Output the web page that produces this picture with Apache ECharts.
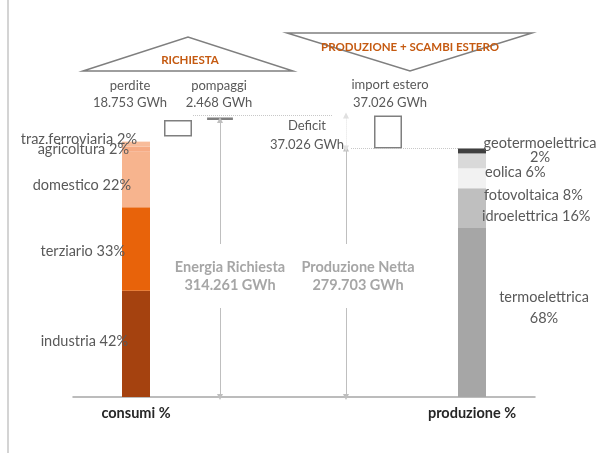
<!DOCTYPE html>
<html>
<head>
<meta charset="utf-8">
<script src="https://cdn.jsdelivr.net/npm/echarts@6/dist/echarts.min.js"></script>
<style>
  html, body { margin: 0; padding: 0; background: #fff; }
  #chart { width: 605px; height: 453px; }
</style>
</head>
<body>
<div id="chart"></div>
<script>
// Colonne lungo l'asse orizzontale
const slots = ['s0', 'consumi %', 'perdite', 'pompaggi', 's4', 's5', 'saldo', 'import', 's8', 'produzione %', 's10'];

// Bilancio elettrico (GWh)
const richiestaGWh = 314261;
const perditeGWh = 18753;
const pompaggiGWh = 2468;
const importGWh = 37026;
const produzioneGWh = 279703;

// Consumi per settore (%), dal basso verso l'alto
const settori = ['industria', 'terziario', 'domestico', 'agricoltura', 'traz.ferroviaria'];
const consumiPerc = [42, 33, 22, 2, 2];

// Produzione per fonte (%), dal basso verso l'alto
const fonti = ['termoelettrica', 'idroelettrica', 'fotovoltaica', 'eolica', 'geotermoelettrica'];
const produzionePerc = [68, 16, 8, 6, 2];

const FONT = 'Lato';
const GWH_MAX = 350000;

const fmtGWh = v => String(v).replace(/\B(?=(\d{3})+(?!\d))/g, '.') + ' GWh';
const at = (slot, value) => slots.map(s => (s === slot ? value : '-'));
const consumiGWh = richiestaGWh - perditeGWh - pompaggiGWh;

const settoreColori = ['#a5420f', '#e8630a', '#f7b48e', '#f6ab84', '#f8bc9a'];
const settoreLabel = [
  { distance: -6, offset: [0, -3] },
  { distance: -3, offset: [0, 2] },
  { distance: -9, offset: [0, 6] },
  { distance: -7, offset: [0, 0] },
  { distance: -15, offset: [0, -5] }
];

const fonteColori = ['#a6a6a6', '#bfbfbf', '#f2f2f2', '#d9d9d9', '#3f3f3f'];
const fonteLabel = [
  { distance: 58, offset: [0, -5], align: 'center', lineHeight: 21, twoLines: true },
  { distance: -4, offset: [0, 8], align: 'left' },
  { distance: -2, offset: [0, 17], align: 'left' },
  { distance: -1, offset: [0, 11], align: 'left' },
  { distance: 54, offset: [0, -1], align: 'center', lineHeight: 14, twoLines: true }
];

const barCommon = { type: 'bar', barWidth: 28, barGap: '-100%' };
const labelText = { color: '#595959', fontFamily: FONT, fontSize: 14.5 };

const guide = { color: '#bfbfbf', width: 1 };

const series = [];

// Base invisibile per i riquadri sospesi + frecce e linee guida
series.push(Object.assign({}, barCommon, {
  name: 'base',
  stack: 'bilancio',
  yAxisIndex: 0,
  silent: true,
  itemStyle: { color: 'transparent' },
  data: slots.map(s => {
    if (s === 'perdite') return consumiGWh;
    if (s === 'pompaggi') return richiestaGWh - pompaggiGWh;
    if (s === 'import') return produzioneGWh;
    return '-';
  }),
  markLine: {
    silent: true,
    animation: false,
    label: { show: false },
    symbol: ['triangle', 'triangle'],
    symbolSize: 6,
    lineStyle: { color: guide.color, width: guide.width, type: 'solid' },
    data: [
      [{ coord: ['pompaggi', richiestaGWh - pompaggiGWh] }, { coord: ['pompaggi', 0] }],
      [{ coord: ['saldo', produzioneGWh] }, { coord: ['saldo', 0] }],
      [{ coord: ['saldo', produzioneGWh + importGWh], lineStyle: { type: 'dotted', color: '#e0e0e0' } },
       { coord: ['saldo', produzioneGWh] }],
      [{ coord: ['perdite', produzioneGWh + importGWh], x: 193, symbol: 'none', lineStyle: { type: 'dotted', color: '#c8c8c8' } },
       { coord: ['saldo', produzioneGWh + importGWh], x: 332, symbol: 'none' }],
      [{ coord: ['saldo', produzioneGWh], x: 351, symbol: 'none', lineStyle: { type: 'dotted', color: '#c8c8c8' } },
       { coord: ['produzione %', produzioneGWh], x: 458, symbol: 'none' }]
    ]
  }
}));

// Riquadri: perdite, pompaggi, import estero
const boxStyle = { color: '#ffffff', borderColor: '#7f7f7f', borderWidth: 1.5 };
series.push(Object.assign({}, barCommon, {
  name: 'riquadri',
  stack: 'bilancio',
  yAxisIndex: 0,
  silent: true,
  data: slots.map(s => {
    if (s === 'perdite') return { value: perditeGWh, itemStyle: boxStyle };
    if (s === 'pompaggi') return { value: pompaggiGWh, itemStyle: { color: '#7f7f7f', borderColor: '#7f7f7f', borderWidth: 2.5 } };
    if (s === 'import') return { value: importGWh, itemStyle: boxStyle };
    return '-';
  })
}));

// Consumi per settore
settori.forEach((nome, i) => {
  const lb = settoreLabel[i];
  series.push(Object.assign({}, barCommon, {
    name: nome,
    stack: 'consumi',
    yAxisIndex: 1,
    itemStyle: { color: settoreColori[i] },
    label: Object.assign({
      show: true,
      position: 'left',
      distance: lb.distance,
      offset: lb.offset,
      align: 'right',
      formatter: p => nome + ' ' + p.value + '%'
    }, labelText),
    data: at('consumi %', consumiPerc[i])
  }));
});

// Produzione per fonte
fonti.forEach((nome, i) => {
  const lb = fonteLabel[i];
  series.push(Object.assign({}, barCommon, {
    name: nome,
    stack: 'produzione',
    yAxisIndex: 2,
    itemStyle: { color: fonteColori[i] },
    label: Object.assign({
      show: true,
      position: 'right',
      distance: lb.distance,
      offset: lb.offset,
      align: lb.align,
      lineHeight: lb.lineHeight || 16,
      formatter: p => nome + (lb.twoLines ? '\n' : ' ') + p.value + '%'
    }, labelText),
    data: at('produzione %', produzionePerc[i])
  }));
});

const txt = (x, y, text, extra) => ({
  type: 'text', x: x, y: y, z: 50, silent: true,
  style: Object.assign({
    text: text, align: 'center', verticalAlign: 'middle',
    fill: '#595959', fontFamily: FONT, fontSize: 13
  }, extra || {})
});

const option = {
  animation: false,
  backgroundColor: '#ffffff',
  textStyle: { fontFamily: FONT },
  grid: { left: 73, right: 70, top: 86, bottom: 56 },
  xAxis: {
    type: 'category',
    data: slots,
    axisTick: { show: false },
    axisLine: { lineStyle: { color: '#a6a6a6', width: 1.5 } },
    axisLabel: {
      interval: 0,
      margin: 9,
      color: '#262626',
      fontWeight: 'bold',
      fontSize: 14.5,
      fontFamily: FONT,
      formatter: v => (v === 'consumi %' || v === 'produzione %') ? v : ''
    }
  },
  yAxis: [
    { type: 'value', min: 0, max: GWH_MAX, show: false },
    { type: 'value', min: 0, max: 123, show: false },
    { type: 'value', min: 0, max: 100 * GWH_MAX / produzioneGWh, show: false }
  ],
  series: series,
  graphic: [
    { type: 'line', silent: true, shape: { x1: 8, y1: 0, x2: 8, y2: 453 }, style: { stroke: '#d4d4d4', lineWidth: 2 } },
    { type: 'polygon', silent: true, shape: { points: [[83, 71], [188, 37], [293, 71]] },
      style: { fill: 'none', stroke: '#7f7f7f', lineWidth: 1.5 } },
    { type: 'polygon', silent: true, shape: { points: [[287, 33], [532, 33], [410, 71]] },
      style: { fill: 'none', stroke: '#7f7f7f', lineWidth: 1.5 } },
    txt(190, 60, 'RICHIESTA', { fill: '#c55a11', fontWeight: 'bold', fontSize: 11.5 }),
    txt(410, 47, 'PRODUZIONE + SCAMBI ESTERO', { fill: '#c55a11', fontWeight: 'bold', fontSize: 11.5 }),
    txt(130, 94, 'perdite\n' + fmtGWh(perditeGWh), { lineHeight: 17 }),
    txt(219, 94, 'pompaggi\n' + fmtGWh(pompaggiGWh), { lineHeight: 17 }),
    txt(390, 94, 'import estero\n' + fmtGWh(importGWh), { lineHeight: 18 }),
    txt(307, 135, 'Deficit\n' + fmtGWh(importGWh), { lineHeight: 19 }),
    txt(230, 276, 'Energia Richiesta\n' + fmtGWh(richiestaGWh),
      { fill: '#a6a6a6', fontWeight: 'bold', fontSize: 14.5, lineHeight: 18, backgroundColor: '#ffffff', padding: [14, 3] }),
    txt(358, 276, 'Produzione Netta\n' + fmtGWh(produzioneGWh),
      { fill: '#a6a6a6', fontWeight: 'bold', fontSize: 14.5, lineHeight: 18, backgroundColor: '#ffffff', padding: [14, 3] })
  ]
};

const chart = echarts.init(document.getElementById('chart'), null, { renderer: 'canvas' });
chart.setOption(option);
</script>
</body>
</html>
